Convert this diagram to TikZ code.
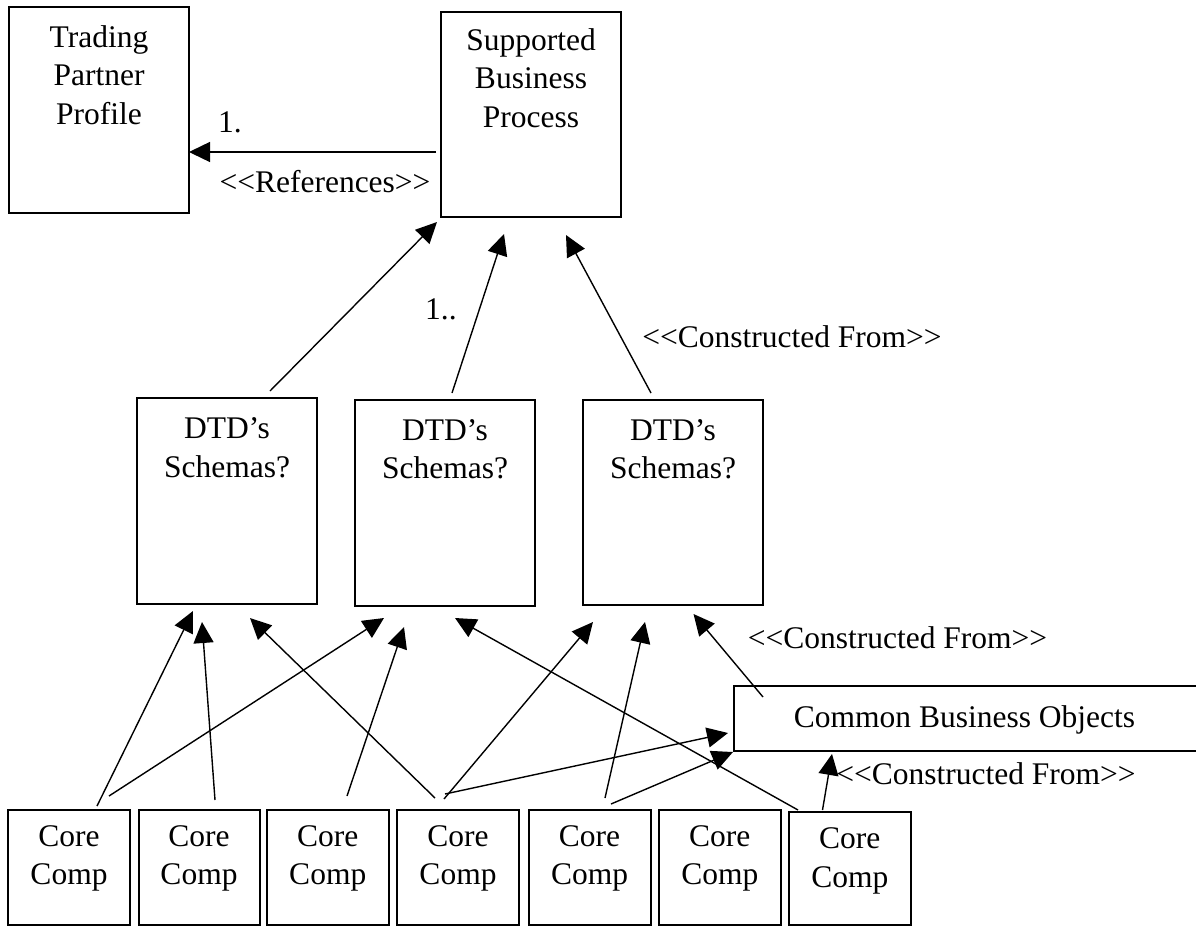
\documentclass[tikz,border=0pt]{standalone}
\usepackage{fontspec}
\setmainfont{Liberation Serif}[Ligatures=TeXOff]
\usetikzlibrary{arrows.meta}
\begin{document}
\begin{tikzpicture}[x=1pt,y=-1pt,
  box/.style={draw, line width=2pt, inner sep=0pt, outer sep=0pt, anchor=north west},
  txt/.style={inner sep=0pt, anchor=base, align=center, font=\fontsize{31.5}{38.5}\selectfont},
  arr/.style={line width=1.4pt, -{Triangle[length=21pt,width=20pt]}}]
\useasboundingbox (0,0) rectangle (1196,926);

% top level (text nodes are placed by the baseline of their last line)
\node[box, minimum width=180pt, minimum height=206pt] (tpp) at (9,7) {};
\node[box, minimum width=180pt, minimum height=205pt] (sbp) at (441,12) {};
\node[txt] (tpptext) at (99,124) {Trading\\Partner\\Profile};
\node[txt] (sbptext) at (531,127) {Supported\\Business\\Process};

% schema boxes
\node[box, minimum width=180pt, minimum height=206pt] (dtd1) at (137,398) {};
\node[box, minimum width=180pt, minimum height=206pt] (dtd2) at (355,400) {};
\node[box, minimum width=180pt, minimum height=205pt] (dtd3) at (583,400) {};
\node[txt] (dtd1text) at (227,477) {DTD’s\\Schemas?};
\node[txt] (dtd2text) at (445,478.5) {DTD’s\\Schemas?};
\node[txt] (dtd3text) at (673,478.5) {DTD’s\\Schemas?};

% common business objects
\node[box, minimum width=466pt, minimum height=65pt] (cbo) at (734,686) {};
\node[txt] (cbotext) at (964.5,727) {Common Business Objects};

% core components
\node[box, minimum width=122pt, minimum height=115pt] (cc1) at (8,810) {};
\node[box, minimum width=121pt, minimum height=115pt] (cc2) at (138.5,810) {};
\node[box, minimum width=121.5pt, minimum height=115pt] (cc3) at (267,810) {};
\node[box, minimum width=122pt, minimum height=115pt] (cc4) at (397,810) {};
\node[box, minimum width=122pt, minimum height=115pt] (cc5) at (528.5,810) {};
\node[box, minimum width=122.5pt, minimum height=115pt] (cc6) at (658.5,810) {};
\node[box, minimum width=121.5pt, minimum height=113pt] (cc7) at (789,812) {};
\foreach \b in {cc1,cc2,cc3,cc4,cc5,cc6}
  \node[txt] (\b text) at ([yshift=-74.5pt]\b.north) {Core\\Comp};
\node[txt] (cc7text) at ([yshift=-75pt]cc7.north) {Core\\Comp};

% labels
\node[txt, anchor=base west] (lab1) at (218,132) {1.};
\node[txt] (labref) at (325,192) {<<References>>};
\node[txt, anchor=base west] (lab2) at (425,319) {1..};
\node[txt] (labcf1) at (792,347) {<<Constructed From>>};
\node[txt] (labcf2) at (897.5,648) {<<Constructed From>>};
\node[txt] (labcf3) at (986,784) {<<Constructed From>>};

% references
\draw[arr] ([shift={(-5,140)}]sbp.north west) -- ([shift={(0,145)}]tpp.north east);

% schemas to business process
\draw[arr] ([shift={(133,-7)}]dtd1.north west) -- ([shift={(-4,5)}]sbp.south west);
\draw[arr] ([shift={(97,-7)}]dtd2.north west) -- ([shift={(63,17)}]sbp.south west);
\draw[arr] ([shift={(68,-7)}]dtd3.north west) -- ([shift={(125,18)}]sbp.south west);

% core components to schemas and business objects
\draw[arr] ([shift={(89,-4)}]cc1.north west) -- ([shift={(56,7)}]dtd1.south west);
\draw[arr] ([shift={(101,-14)}]cc1.north west) -- ([shift={(29,12)}]dtd2.south west);
\draw[arr] ([shift={(76.5,-10)}]cc2.north west) -- ([shift={(65,18)}]dtd1.south west);
\draw[arr] ([shift={(38,-12)}]cc4.north west) -- ([shift={(113,14)}]dtd1.south west);
\draw[arr] ([shift={(80,-14)}]cc3.north west) -- ([shift={(49,21)}]dtd2.south west);
\draw[arr] ([shift={(47,-11)}]cc4.north west) -- ([shift={(10,17)}]dtd3.south west);
\draw[arr] ([shift={(48,-16)}]cc4.north west) -- ([shift={(-6,47)}]cbo.north west);
\draw[arr] ([shift={(9,-2)}]cc7.north west) -- ([shift={(100,12)}]dtd2.south west);
\draw[arr] ([shift={(76.5,-12)}]cc5.north west) -- ([shift={(62,17)}]dtd3.south west);
\draw[arr] ([shift={(82.5,-6)}]cc5.north west) -- ([shift={(-1,1)}]cbo.south west);
\draw[arr] ([shift={(29,11)}]cbo.north west) -- ([shift={(110.5,9)}]dtd3.south west);
\draw[arr] ([shift={(33.5,-2)}]cc7.north west) -- ([shift={(98,3)}]cbo.south west);
\end{tikzpicture}
\end{document}
